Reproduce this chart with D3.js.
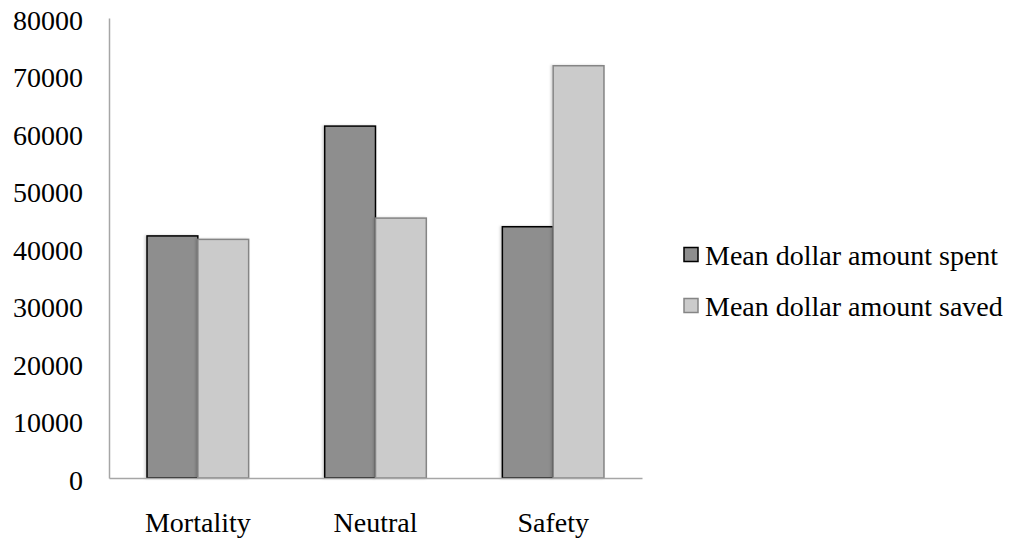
<!DOCTYPE html>
<html><head><meta charset="utf-8">
<script src="https://cdn.jsdelivr.net/npm/d3@7"></script>
<style>body{margin:0;background:#fff}svg{display:block}text{font-family:"Liberation Serif",serif;fill:#000}</style>
</head><body><svg id="c" width="1011" height="538"></svg>
<script>
const categories = ["Mortality", "Neutral", "Safety"];
const seriesNames = ["Mean dollar amount spent", "Mean dollar amount saved"];
const spent = [42100, 61200, 43700];
const saved = [41500, 45200, 71700];
const yTicks = [0, 10000, 20000, 30000, 40000, 50000, 60000, 70000, 80000];

const fills = ["#8e8e8e", "#cbcbcb"];
const strokes = ["#000000", "#858585"];
const fontSize = 28;
const fam = "Liberation Serif";

const svg = d3.select("#c");
const defs = svg.append("defs");
const f = defs.append("filter").attr("id", "sh").attr("x", "-20%").attr("y", "-5%").attr("width", "140%").attr("height", "110%");
f.append("feDropShadow").attr("dx", -1.5).attr("dy", 0).attr("stdDeviation", 1).attr("flood-color", "#000").attr("flood-opacity", 0.18);

const x0 = 109, x1 = 642, yTop = 18, yBot = 478;
const x = d3.scaleBand().domain(categories).range([x0, x1]).paddingInner(0.428).paddingOuter(0.214);
const xs = d3.scaleBand().domain([0, 1]).range([0, x.bandwidth()]);
const y = d3.scaleLinear().domain([0, 80000]).range([yBot, yTop]);

// y axis
const ya = svg.append("g").attr("transform", `translate(${x0},0)`).call(d3.axisLeft(y).tickValues(yTicks).tickSize(0).tickPadding(26).tickFormat(d3.format("d")));
ya.select(".domain").attr("stroke", "#a6a6a6").attr("stroke-width", 1.5);
ya.selectAll("text").attr("font-size", fontSize).attr("font-family", fam).attr("dy", "0.4em").attr("fill", "#000");

// bars
const series = [spent, saved];
series.forEach((vals, si) => {
  svg.append("g").attr("filter", "url(#sh)").selectAll("rect").data(categories).join("rect")
    .attr("x", d => x(d) + xs(si))
    .attr("y", (d, i) => y(vals[i]))
    .attr("width", xs.bandwidth())
    .attr("height", (d, i) => yBot - y(vals[i]))
    .attr("fill", fills[si]).attr("stroke", strokes[si]).attr("stroke-width", 1.5);
});

// x axis
const xa = svg.append("g").attr("transform", `translate(0,${yBot})`).call(d3.axisBottom(x).tickSize(0).tickPadding(34));
xa.select(".domain").attr("stroke", "#a6a6a6").attr("stroke-width", 1.5);
xa.selectAll("text").attr("font-size", fontSize).attr("font-family", fam).attr("fill", "#000");

// legend
const lg = svg.append("g");
seriesNames.forEach((n, i) => {
  const ly = 254.5 + i * 51;
  lg.append("rect").attr("x", 684).attr("y", ly - 7).attr("width", 14).attr("height", 14)
    .attr("fill", fills[i]).attr("stroke", strokes[i]).attr("stroke-width", 1.5);
  lg.append("text").attr("x", 705).attr("y", ly).attr("dy", "0.36em").attr("font-size", fontSize).text(n);
});
</script></body></html>
